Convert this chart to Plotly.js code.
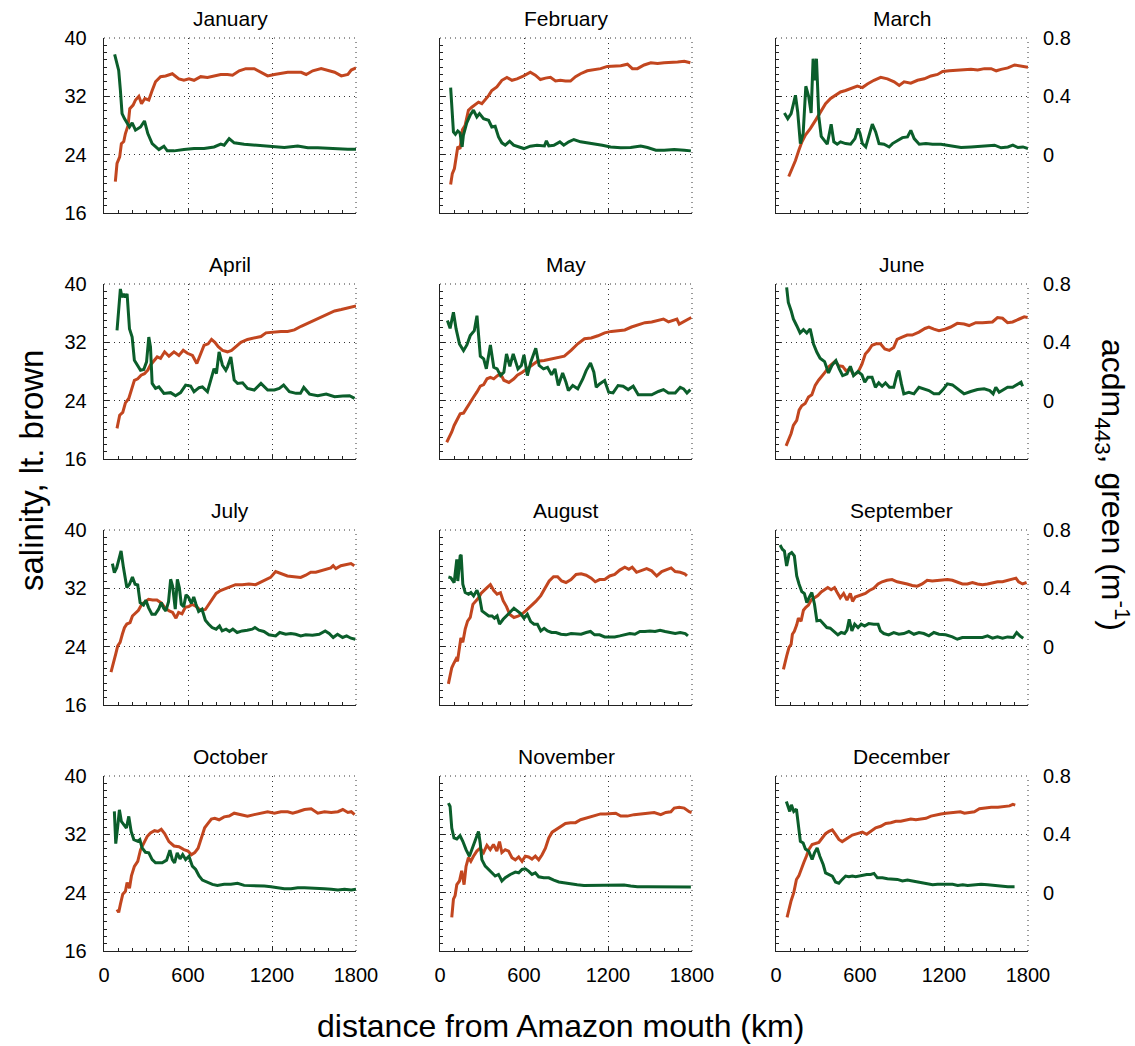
<!DOCTYPE html>
<html>
<head>
<meta charset="utf-8">
<script src="https://cdn.plot.ly/plotly-3.0.1.min.js"></script>
<style>html,body{margin:0;padding:0;background:#fff;}#chart{width:1135px;height:1046px;}</style>
</head>
<body>
<div id="chart"></div>
<script>
const months = ["January","February","March","April","May","June","July","August","September","October","November","December"];
const xTickVals = [0, 600, 1200, 1800];
const salTickVals = [16, 24, 32, 40];
const cdomTickVals = [0, 0.4, 0.8];
const cdomTickText = ["0", "0.4", "0.8"];

// ---- January ----
const janSalX = [81,93,112,124,141,153,172,184,208,225,249,268,292,320,344,368,404,440,488,535,571,607,643,691,739,786,834,882,918,966,1013,1073,1121,1169,1217,1264,1312,1360,1408,1444,1491,1551,1599,1647,1695,1742,1766,1800];
const janSalY = [20.3,22.8,23.7,25.5,25.8,26.9,28.0,30.3,30.8,31.5,32.0,31.0,31.7,31.5,32.8,34.0,34.7,34.8,35.1,34.4,34.2,34.4,34.2,34.7,34.6,34.8,35.0,35.0,34.9,35.5,35.8,35.8,35.3,34.8,35.0,35.2,35.3,35.3,35.3,35.0,35.5,35.8,35.6,35.3,34.8,35.0,35.6,35.9];
const janCdomX = [76,93,105,117,129,146,165,182,201,225,261,289,313,344,392,428,452,500,571,643,715,786,834,858,894,930,1001,1073,1145,1217,1288,1384,1456,1527,1599,1671,1742,1800];
const janCdomY = [0.688,0.624,0.578,0.442,0.282,0.247,0.213,0.190,0.218,0.168,0.190,0.231,0.145,0.076,0.035,0.058,0.026,0.026,0.035,0.042,0.042,0.053,0.072,0.065,0.110,0.081,0.072,0.065,0.060,0.053,0.049,0.060,0.047,0.047,0.042,0.037,0.037,0.037];

// ---- February ----
const febSalX = [76,88,103,115,127,143,160,179,203,227,251,275,299,323,347,370,406,442,478,514,550,598,645,681,717,753,789,825,860,896,932,968,1004,1052,1100,1147,1195,1243,1291,1339,1374,1410,1458,1506,1554,1601,1649,1697,1745,1788];
const febSalY = [19.9,21.4,22.1,23.7,25.1,24.8,27.4,28.0,30.1,30.5,30.8,31.2,31.0,31.5,32.1,32.8,33.3,34.2,34.6,34.2,34.4,34.8,35.3,34.9,34.3,34.5,34.6,34.1,34.2,34.1,34.1,34.7,35.1,35.5,35.6,35.8,36.1,36.1,36.2,36.4,35.8,35.8,36.3,36.6,36.5,36.6,36.6,36.7,36.8,36.6];
const febCdomX = [76,88,96,110,127,143,158,167,191,215,239,263,282,311,347,370,394,418,442,466,497,526,562,599,645,693,746,760,777,813,856,884,920,956,1004,1052,1100,1159,1219,1291,1362,1434,1482,1542,1601,1673,1745,1792];
const febCdomY = [0.460,0.305,0.156,0.140,0.163,0.149,0.053,0.133,0.218,0.270,0.305,0.259,0.282,0.247,0.236,0.190,0.195,0.122,0.081,0.065,0.092,0.065,0.053,0.042,0.058,0.065,0.060,0.095,0.060,0.065,0.088,0.065,0.088,0.104,0.088,0.081,0.076,0.065,0.053,0.047,0.049,0.060,0.049,0.031,0.031,0.035,0.031,0.026];

// ---- March ----
const marSalX = [91,115,139,163,186,210,246,282,318,354,390,425,461,497,533,581,617,653,700,748,796,844,880,915,963,1011,1059,1107,1154,1190,1238,1298,1346,1393,1441,1489,1537,1573,1608,1656,1704,1752,1800];
const marSalY = [21.0,22.1,23.2,24.6,25.8,26.7,27.6,28.7,29.9,31.0,31.7,32.1,32.6,32.8,33.1,33.4,33.2,33.7,34.2,34.6,34.4,34.0,33.5,34.0,33.8,34.2,34.4,34.8,35.0,35.4,35.5,35.6,35.7,35.7,35.6,35.8,35.8,35.5,35.7,35.9,36.3,36.1,36.0];
const marCdomX = [60,84,108,139,155,174,194,213,234,251,265,277,289,306,323,342,366,394,413,437,461,497,533,564,586,600,617,641,664,688,712,736,772,808,832,868,903,939,963,987,1023,1071,1118,1178,1250,1322,1393,1465,1513,1561,1608,1656,1692,1728,1764,1800];
const marCdomY = [0.286,0.247,0.282,0.407,0.293,0.076,0.145,0.469,0.396,0.286,0.658,0.510,0.658,0.259,0.126,0.099,0.072,0.209,0.088,0.072,0.088,0.076,0.072,0.110,0.179,0.145,0.076,0.053,0.122,0.209,0.156,0.076,0.072,0.053,0.076,0.099,0.117,0.122,0.167,0.110,0.072,0.076,0.072,0.072,0.060,0.049,0.053,0.060,0.065,0.065,0.047,0.053,0.065,0.049,0.053,0.042];

// ---- April ----
const aprSalX = [93,112,134,153,177,196,217,241,265,289,313,332,356,380,404,433,464,500,535,566,596,632,663,692,715,744,768,792,816,847,882,911,942,978,1025,1073,1121,1157,1205,1264,1312,1360,1408,1456,1503,1551,1599,1647,1695,1742,1800];
const aprSalY = [20.2,22.0,22.4,23.7,24.3,25.5,26.8,27.0,27.5,27.7,28.2,28.9,29.5,30.0,29.8,30.7,30.1,30.7,30.2,30.9,30.5,30.2,29.1,30.5,31.6,31.8,32.4,32.0,31.4,30.9,30.7,30.9,31.4,32.0,32.4,32.6,32.8,33.3,33.4,33.5,33.5,33.7,34.2,34.6,35.0,35.5,35.8,36.3,36.5,36.7,37.0];
const aprCdomX = [93,105,117,129,141,153,165,182,201,217,237,261,284,304,320,332,344,368,392,428,476,511,547,583,619,643,679,703,739,763,786,803,822,846,870,882,906,930,954,990,1025,1073,1121,1169,1217,1252,1283,1324,1372,1403,1427,1468,1527,1587,1647,1706,1754,1790];
const aprCdomY = [0.482,0.664,0.766,0.709,0.732,0.709,0.732,0.493,0.436,0.277,0.243,0.209,0.214,0.266,0.436,0.368,0.118,0.084,0.095,0.050,0.055,0.034,0.055,0.107,0.100,0.061,0.089,0.095,0.061,0.141,0.220,0.186,0.334,0.243,0.209,0.232,0.300,0.141,0.118,0.123,0.084,0.073,0.118,0.073,0.073,0.084,0.107,0.061,0.050,0.050,0.091,0.045,0.034,0.045,0.027,0.032,0.034,0.016];

// ---- May ----
const maySalX = [48,67,84,101,120,144,168,192,216,240,264,288,312,336,360,384,408,432,456,492,528,552,588,624,660,696,744,792,840,888,936,984,1032,1080,1128,1176,1224,1272,1320,1368,1416,1464,1512,1560,1596,1632,1668,1692,1709,1740,1776,1795];
const maySalY = [18.3,19.0,19.7,20.6,21.3,22.2,22.3,23.1,23.8,24.5,25.2,26.0,26.2,27.0,27.2,27.0,27.4,27.7,26.8,26.5,27.0,27.5,27.9,28.4,29.0,29.4,29.5,29.7,30.0,30.1,30.9,31.8,32.5,32.6,32.9,33.3,33.5,33.6,33.7,34.1,34.4,34.7,34.8,35.0,35.2,34.8,35.0,35.2,34.5,34.8,35.2,35.4];
const mayCdomX = [53,72,96,115,139,168,192,216,245,264,288,312,331,360,384,408,432,456,475,499,523,557,581,600,624,648,684,708,739,768,797,821,845,876,900,917,948,984,1020,1044,1075,1099,1116,1140,1176,1205,1236,1272,1308,1344,1380,1416,1464,1512,1560,1596,1632,1680,1716,1740,1764,1788];
const mayCdomY = [0.549,0.496,0.606,0.492,0.389,0.343,0.382,0.446,0.480,0.583,0.305,0.286,0.218,0.382,0.229,0.218,0.172,0.195,0.321,0.236,0.321,0.218,0.241,0.314,0.172,0.263,0.359,0.241,0.218,0.229,0.177,0.218,0.104,0.190,0.126,0.069,0.104,0.081,0.149,0.206,0.259,0.195,0.092,0.115,0.138,0.058,0.053,0.104,0.099,0.076,0.099,0.040,0.040,0.040,0.063,0.076,0.053,0.053,0.092,0.081,0.053,0.076];

// ---- June ----
const junSalX = [72,88,108,124,148,165,184,208,232,256,280,304,327,351,375,399,423,447,476,500,531,554,586,614,638,662,686,715,746,777,810,841,865,901,937,973,1021,1064,1092,1128,1164,1207,1248,1295,1343,1379,1427,1475,1518,1546,1582,1618,1654,1690,1738,1773,1797];
const junSalY = [17.8,18.6,19.5,20.6,21.3,22.7,23.3,23.6,24.5,24.8,26.1,26.8,27.3,27.9,28.6,29.0,29.4,28.8,28.7,28.1,28.4,27.5,27.9,29.0,30.4,30.9,31.6,31.8,31.8,31.1,30.9,31.3,32.4,32.7,33.0,33.0,33.4,33.9,34.1,33.8,33.6,33.8,34.1,34.6,34.5,34.3,34.7,34.7,34.7,34.8,35.4,35.3,34.7,34.8,35.2,35.5,35.4];
const junCdomX = [76,88,108,124,148,172,196,220,244,268,292,315,347,375,399,428,452,476,507,531,554,586,614,634,657,686,710,734,758,782,810,841,865,877,896,913,949,985,1021,1056,1092,1128,1164,1193,1224,1260,1295,1343,1391,1439,1487,1527,1551,1570,1594,1623,1654,1690,1726,1750,1761];
const junCdomY = [0.777,0.674,0.617,0.560,0.514,0.464,0.487,0.464,0.492,0.389,0.332,0.291,0.268,0.190,0.241,0.275,0.218,0.172,0.184,0.236,0.172,0.200,0.177,0.126,0.161,0.161,0.092,0.122,0.099,0.122,0.092,0.092,0.184,0.206,0.115,0.047,0.058,0.047,0.092,0.081,0.069,0.047,0.047,0.076,0.115,0.108,0.081,0.047,0.063,0.076,0.081,0.069,0.047,0.092,0.058,0.076,0.092,0.092,0.115,0.126,0.099];

// ---- July ----
const julSalX = [50,67,84,98,115,131,146,163,186,203,222,246,270,294,318,347,378,409,437,466,490,514,533,557,581,605,629,652,688,724,748,772,801,832,868,903,939,987,1035,1083,1119,1154,1190,1226,1262,1310,1357,1405,1441,1477,1513,1549,1585,1620,1637,1656,1692,1728,1764,1788];
const julSalY = [20.5,21.6,23.0,24.1,24.6,25.7,26.6,27.1,27.3,28.2,28.5,29.0,29.8,30.2,30.5,30.4,30.4,30.0,29.3,28.9,28.7,27.9,28.7,28.5,29.4,29.5,29.8,29.6,29.0,29.1,29.8,30.4,31.3,31.7,32.0,32.2,32.5,32.5,32.6,32.5,32.8,33.1,33.5,34.3,34.0,33.7,33.6,33.5,33.8,34.2,34.2,34.4,34.5,34.8,35.1,34.7,35.1,35.2,35.4,35.1];
const julCdomX = [60,74,91,108,122,139,163,182,203,222,241,258,282,299,318,342,366,390,409,426,442,461,476,490,509,524,538,552,569,586,605,624,641,657,676,700,724,748,772,801,825,844,872,896,920,951,987,1023,1059,1078,1107,1142,1178,1226,1255,1298,1334,1369,1405,1441,1489,1537,1580,1608,1637,1668,1704,1733,1764,1795];
const julCdomY = [0.569,0.508,0.542,0.611,0.656,0.542,0.405,0.428,0.478,0.428,0.423,0.302,0.286,0.318,0.268,0.222,0.222,0.257,0.302,0.263,0.245,0.309,0.462,0.416,0.257,0.462,0.405,0.291,0.273,0.355,0.337,0.296,0.341,0.291,0.241,0.257,0.181,0.154,0.131,0.120,0.142,0.108,0.120,0.104,0.120,0.097,0.108,0.113,0.120,0.131,0.113,0.104,0.081,0.074,0.097,0.085,0.090,0.085,0.074,0.081,0.078,0.085,0.108,0.090,0.063,0.085,0.063,0.074,0.058,0.051];

// ---- August ----
const augSalX = [60,72,84,96,115,125,139,149,163,180,197,216,235,259,276,293,312,336,360,384,408,432,451,475,499,528,557,581,612,648,684,720,749,780,811,840,869,900,936,972,1008,1044,1080,1109,1140,1176,1212,1248,1284,1320,1349,1373,1404,1440,1476,1512,1548,1584,1620,1651,1680,1716,1747,1764];
const augSalY = [18.9,20.0,21.1,21.6,22.3,22.0,24.1,25.2,24.6,26.4,27.5,28.0,29.8,30.3,30.7,31.3,31.6,32.1,32.5,31.7,31.2,31.4,30.3,29.5,28.4,28.0,28.2,28.4,28.9,29.5,30.2,31.0,31.9,33.0,33.6,33.6,33.0,32.8,33.2,33.9,34.0,33.8,33.4,32.9,33.2,33.2,33.7,33.9,34.5,34.9,34.6,34.9,34.2,34.4,34.7,34.4,33.7,34.3,34.6,34.8,34.3,34.2,34.0,33.7];
const augCdomX = [60,77,101,120,127,144,151,163,180,204,221,240,264,283,300,324,348,372,389,408,425,451,480,509,528,552,576,600,624,648,672,696,720,744,768,797,828,864,900,936,972,1008,1044,1075,1104,1140,1176,1212,1248,1284,1320,1356,1392,1428,1464,1500,1536,1572,1608,1644,1680,1716,1752,1771];
const augCdomY = [0.478,0.473,0.439,0.599,0.450,0.622,0.629,0.428,0.371,0.359,0.371,0.348,0.387,0.337,0.245,0.227,0.211,0.211,0.195,0.211,0.154,0.188,0.218,0.250,0.263,0.245,0.227,0.195,0.222,0.172,0.154,0.154,0.108,0.126,0.108,0.097,0.097,0.085,0.081,0.090,0.085,0.085,0.097,0.104,0.081,0.081,0.067,0.067,0.067,0.074,0.081,0.090,0.085,0.104,0.104,0.108,0.104,0.113,0.104,0.097,0.090,0.097,0.090,0.074];

// ---- September ----
const sepSalX = [53,65,76,93,108,117,131,148,160,179,196,213,232,251,275,299,323,347,370,394,418,435,459,483,507,531,547,566,590,614,638,667,698,729,758,793,829,865,901,937,973,1009,1044,1080,1116,1152,1188,1224,1260,1295,1331,1367,1403,1439,1475,1511,1546,1582,1618,1654,1690,1714,1733,1761,1790];
const sepSalY = [20.9,22.1,22.7,23.9,24.3,25.7,26.1,27.0,27.9,27.5,29.0,29.4,29.7,30.4,30.7,31.0,31.5,31.8,32.1,31.8,32.1,31.5,30.7,31.3,30.4,31.3,30.2,30.8,31.0,31.1,31.3,31.7,32.0,32.6,32.9,33.1,33.2,32.9,32.8,32.6,32.4,32.3,32.6,33.1,33.0,33.1,33.2,33.2,33.1,32.9,32.6,32.6,32.8,32.6,32.5,32.6,32.8,32.9,32.9,33.1,33.3,33.4,32.9,32.6,32.8];
const sepCdomX = [29,45,60,76,93,112,131,148,165,184,203,220,237,256,275,292,316,339,363,387,411,442,466,490,507,523,542,562,586,609,633,662,698,729,746,770,805,841,877,913,949,985,1021,1056,1092,1128,1164,1212,1260,1295,1331,1379,1427,1475,1511,1546,1582,1618,1654,1695,1719,1742,1766];
const sepCdomY = [0.697,0.668,0.656,0.553,0.633,0.645,0.622,0.485,0.428,0.378,0.364,0.302,0.337,0.371,0.291,0.177,0.181,0.154,0.131,0.127,0.108,0.081,0.097,0.090,0.113,0.188,0.108,0.154,0.131,0.154,0.142,0.158,0.154,0.154,0.108,0.090,0.081,0.097,0.085,0.090,0.104,0.085,0.097,0.090,0.074,0.097,0.085,0.081,0.067,0.051,0.063,0.063,0.067,0.063,0.074,0.058,0.067,0.058,0.067,0.063,0.097,0.074,0.058];

// ---- October ----
const octSalX = [93,105,117,134,153,165,182,196,217,241,261,284,308,332,361,385,409,433,464,500,535,571,600,624,648,672,696,719,743,767,791,822,858,894,930,978,1025,1073,1121,1169,1217,1264,1312,1348,1384,1432,1480,1527,1575,1623,1671,1706,1742,1766,1790];
const octSalY = [21.7,21.3,22.4,23.8,24.2,25.4,24.6,26.3,27.6,28.3,29.9,30.8,31.7,32.2,32.5,32.4,32.7,32.1,31.0,30.4,30.3,29.9,29.7,29.2,29.5,30.1,31.6,32.9,33.5,34.1,34.2,34.0,34.4,34.5,34.9,34.7,34.5,34.7,34.9,35.1,34.9,35.1,35.1,34.9,35.1,35.4,35.5,34.9,35.1,35.0,35.1,35.4,35.0,35.1,34.7];
const octCdomX = [74,84,98,110,124,141,160,177,194,213,241,256,272,296,320,344,368,392,416,447,471,488,504,523,543,562,583,607,631,655,679,703,739,774,810,858,906,954,1001,1049,1097,1145,1193,1240,1288,1336,1384,1432,1480,1527,1575,1623,1671,1718,1766,1800];
const octCdomY = [0.557,0.336,0.455,0.568,0.489,0.466,0.443,0.523,0.420,0.364,0.352,0.364,0.307,0.277,0.273,0.227,0.205,0.205,0.205,0.223,0.291,0.227,0.205,0.273,0.232,0.261,0.227,0.250,0.182,0.159,0.114,0.086,0.073,0.057,0.050,0.057,0.057,0.064,0.050,0.050,0.050,0.045,0.041,0.034,0.027,0.027,0.034,0.034,0.032,0.034,0.027,0.023,0.018,0.023,0.018,0.023];

// ---- November ----
const novSalX = [84,96,108,120,139,155,172,186,203,220,239,263,287,311,335,359,382,406,425,442,466,490,514,538,562,586,609,633,657,681,705,729,753,777,801,825,860,896,932,968,1004,1040,1076,1111,1147,1183,1219,1255,1291,1338,1386,1434,1482,1530,1577,1613,1649,1673,1709,1744,1780,1797];
const novSalY = [20.6,23.1,23.6,25.1,25.6,27.0,25.1,27.6,28.8,28.3,29.0,29.7,30.1,29.5,30.5,29.9,30.6,29.7,31.0,29.5,29.9,29.7,28.8,28.5,28.9,28.3,29.0,28.9,28.6,29.0,28.5,29.2,30.1,31.5,32.3,32.6,33.1,33.5,33.6,33.6,34.0,34.2,34.5,34.7,34.8,34.8,34.8,34.9,34.5,34.5,34.7,34.8,34.9,35.0,34.7,35.0,35.1,35.6,35.7,35.6,35.1,35.0];
const novCdomX = [60,72,84,100,120,143,163,186,210,234,251,275,287,299,323,347,370,394,418,442,466,502,538,562,586,609,633,657,681,705,741,777,813,849,884,932,980,1028,1076,1123,1171,1219,1267,1315,1362,1410,1482,1554,1625,1697,1769,1792];
const novCdomY = [0.614,0.591,0.443,0.375,0.368,0.391,0.352,0.295,0.250,0.318,0.364,0.420,0.341,0.227,0.182,0.159,0.136,0.114,0.125,0.080,0.102,0.125,0.141,0.136,0.159,0.164,0.148,0.125,0.136,0.109,0.102,0.102,0.086,0.073,0.068,0.064,0.055,0.050,0.050,0.050,0.055,0.050,0.050,0.052,0.045,0.041,0.041,0.041,0.041,0.041,0.039,0.039];

// ---- December ----
const decSalX = [79,91,108,127,146,163,179,198,217,234,258,282,306,330,354,378,402,425,449,473,497,521,545,581,617,648,676,712,748,784,820,856,891,934,963,999,1035,1071,1107,1142,1178,1214,1250,1286,1317,1346,1381,1417,1453,1489,1537,1585,1632,1668,1692,1709];
const decSalY = [20.6,21.7,22.9,24.0,25.8,26.3,27.2,28.1,29.0,29.9,30.6,30.8,30.9,31.5,32.1,32.4,32.6,32.0,31.3,31.0,31.3,31.5,31.9,32.1,32.3,32.0,32.4,32.9,33.1,33.5,33.6,33.8,33.8,34.0,34.1,34.0,34.1,34.2,34.5,34.7,34.8,34.9,35.0,35.0,35.1,34.9,35.0,35.1,35.5,35.6,35.7,35.7,35.8,35.9,36.1,36.0];
const decCdomX = [74,86,98,110,127,146,163,174,194,210,234,258,275,294,313,337,354,378,402,425,449,473,497,521,545,569,593,617,648,676,700,724,760,796,832,867,903,939,975,1011,1047,1083,1119,1154,1190,1226,1262,1298,1334,1369,1417,1465,1513,1561,1608,1656,1704];
const decCdomY = [0.625,0.591,0.557,0.602,0.557,0.573,0.432,0.352,0.341,0.300,0.284,0.227,0.273,0.307,0.250,0.193,0.136,0.125,0.114,0.073,0.064,0.091,0.114,0.109,0.114,0.109,0.114,0.118,0.125,0.125,0.132,0.102,0.102,0.095,0.091,0.091,0.080,0.086,0.080,0.073,0.068,0.064,0.055,0.057,0.057,0.057,0.057,0.050,0.055,0.050,0.055,0.057,0.055,0.050,0.045,0.041,0.041];

const salX = [janSalX,febSalX,marSalX,aprSalX,maySalX,junSalX,julSalX,augSalX,sepSalX,octSalX,novSalX,decSalX];
const salY = [janSalY,febSalY,marSalY,aprSalY,maySalY,junSalY,julSalY,augSalY,sepSalY,octSalY,novSalY,decSalY];
const cdomX = [janCdomX,febCdomX,marCdomX,aprCdomX,mayCdomX,junCdomX,julCdomX,augCdomX,sepCdomX,octCdomX,novCdomX,decCdomX];
const cdomY = [janCdomY,febCdomY,marCdomY,aprCdomY,mayCdomY,junCdomY,julCdomY,augCdomY,sepCdomY,octCdomY,novCdomY,decCdomY];

// ---- layout geometry (px) ----
const FW = 1135, FH = 1046;
const colLeft = [104, 440, 776];
const rowTop = [38, 284, 530, 776];
const PW = 252, PH = 175;
const BROWN = "#c2461f", GREEN = "#0b5e2b", AX = "#222222";
const FONT = "Liberation Sans, Arial, sans-serif";

const traces = [];
const layout = {
  width: FW, height: FH,
  margin: {l: 0, r: 0, t: 0, b: 0},
  paper_bgcolor: "#ffffff", plot_bgcolor: "#ffffff",
  showlegend: false,
  font: {family: FONT, size: 20, color: "#000"},
  annotations: [], shapes: []
};

for (let i = 0; i < 12; i++) {
  const r = Math.floor(i / 3), c = i % 3;
  const n = i + 1, m = i + 13;
  const xid = n === 1 ? "x" : "x" + n;
  const yid = n === 1 ? "y" : "y" + n;
  const y2id = "y" + m;
  const xkey = n === 1 ? "xaxis" : "xaxis" + n;
  const ykey = n === 1 ? "yaxis" : "yaxis" + n;
  const y2key = "yaxis" + m;
  const xd = [colLeft[c] / FW, (colLeft[c] + PW) / FW];
  const yd = [1 - (rowTop[r] + PH) / FH, 1 - rowTop[r] / FH];

  layout[xkey] = {
    domain: xd, anchor: yid, range: [0, 1800], tickvals: xTickVals,
    ticks: "inside", ticklen: 5, tickcolor: AX, tickwidth: 1,
    showticklabels: r === 3, ticklabelstandoff: 6,
    showline: true, linecolor: AX, linewidth: 1.3,
    showgrid: true, gridcolor: "#333", gridwidth: 1, griddash: "1px,4px",
    zeroline: false, fixedrange: true,
    minor: {dtick: 100, tick0: 0, ticks: "inside", ticklen: 3, tickcolor: AX, showgrid: false},
    tickfont: {size: 20, family: FONT, color: "#000"}
  };
  layout[ykey] = {
    domain: yd, anchor: xid, range: [16, 40], tickvals: salTickVals,
    ticks: "inside", ticklen: 5, tickcolor: AX, tickwidth: 1,
    showticklabels: c === 0, ticklabelstandoff: 12,
    showline: true, linecolor: AX, linewidth: 1.3,
    showgrid: true, gridcolor: "#333", gridwidth: 1, griddash: "1px,4px",
    zeroline: false, fixedrange: true,
    minor: {dtick: 1, tick0: 16, ticks: "inside", ticklen: 3, tickcolor: AX, showgrid: false},
    tickfont: {size: 20, family: FONT, color: "#000"}
  };
  layout[y2key] = {
    overlaying: yid, anchor: xid, side: "right", range: [-0.4, 0.8],
    tickvals: cdomTickVals, ticktext: cdomTickText,
    showticklabels: c === 2, ticks: "", ticklabelstandoff: 14,
    showline: false, showgrid: false, zeroline: false, fixedrange: true,
    tickfont: {size: 20, family: FONT, color: "#000"}
  };

  traces.push({
    type: "scatter", mode: "lines", x: salX[i], y: salY[i], xaxis: xid, yaxis: yid,
    line: {color: BROWN, width: 3}, hoverinfo: "skip"
  });
  traces.push({
    type: "scatter", mode: "lines", x: cdomX[i], y: cdomY[i], xaxis: xid, yaxis: y2id,
    line: {color: GREEN, width: 3}, hoverinfo: "skip"
  });

  // dotted top and right frame
  layout.shapes.push({type: "line", xref: xid + " domain", yref: yid + " domain", x0: 0, x1: 1, y0: 1, y1: 1,
    line: {color: "#333", width: 1, dash: "1px,4px"}, layer: "below"});
  layout.shapes.push({type: "line", xref: xid + " domain", yref: yid + " domain", x0: 1, x1: 1, y0: 0, y1: 1,
    line: {color: "#333", width: 1, dash: "1px,4px"}, layer: "below"});

  // panel title
  layout.annotations.push({
    text: months[i], xref: "paper", yref: "paper",
    x: (xd[0] + xd[1]) / 2, y: yd[1], xanchor: "center", yanchor: "bottom", yshift: 6,
    showarrow: false, font: {size: 21, family: FONT, color: "#000"}
  });
}

layout.annotations.push({
  text: "distance from Amazon mouth (km)", xref: "paper", yref: "paper",
  x: 560 / FW, y: 1 - 1026 / FH, xanchor: "center", yanchor: "middle",
  showarrow: false, font: {size: 32, family: FONT, color: "#000"}
});
layout.annotations.push({
  text: "salinity, lt. brown", xref: "paper", yref: "paper",
  x: 31 / FW, y: 1 - 471 / FH, xanchor: "center", yanchor: "middle", textangle: -90,
  showarrow: false, font: {size: 33, family: FONT, color: "#000"}
});
layout.annotations.push({
  text: "acdm<sub>443</sub>, green (m<sup>-1</sup>)", xref: "paper", yref: "paper",
  x: 1113 / FW, y: 1 - 485 / FH, xanchor: "center", yanchor: "middle", textangle: 90,
  showarrow: false, font: {size: 32, family: FONT, color: "#000"}
});

Plotly.newPlot("chart", traces, layout, {staticPlot: true, displayModeBar: false});
</script>
</body>
</html>
